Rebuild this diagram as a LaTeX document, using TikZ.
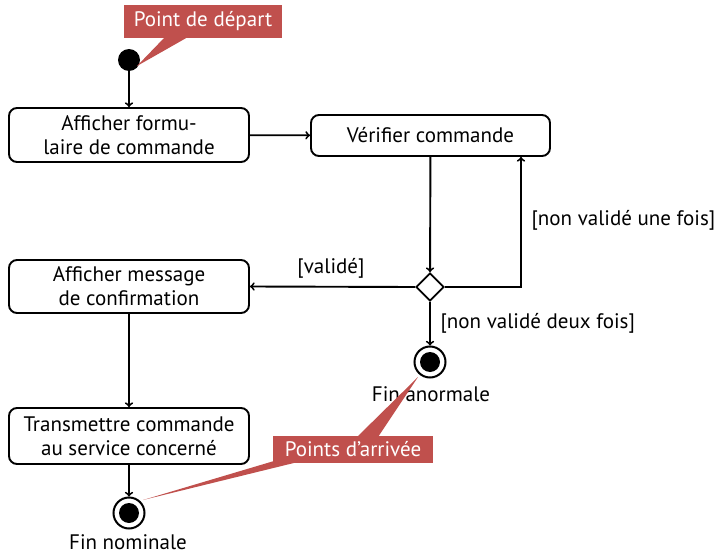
\documentclass[tikz,border=0pt]{standalone}
\usepackage{fontspec}
\setmainfont{PT Sans}
\usetikzlibrary{shapes.geometric}
\definecolor{calloutred}{RGB}{192,80,77}
\begin{document}
\begin{tikzpicture}[x=1pt,y=-1pt,
  every node/.style={font=\fontsize{21}{24}\selectfont},
  action/.style={draw,rounded corners=8pt,line width=1.9pt,align=center,inner sep=0pt},
  flow/.style={->,line width=1.9pt},
  startdot/.style={circle,fill=black,minimum size=22pt,inner sep=0pt},
  enddot/.style={circle,draw,line width=2pt,minimum size=31pt,inner sep=0pt,
    path picture={\fill[black] (path picture bounding box.center) circle (10pt);}},
  choice/.style={diamond,draw,line width=1.9pt,minimum size=28pt,inner sep=0pt},
  callout/.style={fill=calloutred,text=white,inner sep=0pt,font=\fontsize{21}{24}\selectfont},
  guard/.style={font=\fontsize{21}{24}\selectfont},
  endlabel/.style={anchor=base,inner sep=0pt}]
\useasboundingbox (0,0) rectangle (721,554);

% initial state
\node[startdot] (start) at (129,60) {};

% actions
\node[action,minimum width=240pt,minimum height=54pt] (form) at (129,135)
  {Afficher formu-\\laire de commande};
\node[action,minimum width=239pt,minimum height=41pt] (check) at (430.5,135.5)
  {Vérifier commande};
\node[action,minimum width=240pt,minimum height=53pt] (confirm) at (129,286.5)
  {Afficher message\\de confirmation};
\node[action,minimum width=240pt,minimum height=56pt] (send) at (129,436)
  {Transmettre commande\\au service concerné};

% decision
\node[choice] (dec) at (430,287) {};

% final states
\node[enddot] (badend) at (430,362) {};
\node[enddot] (goodend) at (129,513) {};
\node[endlabel] (badlbl) at (431,401) {Fin anormale};
\node[endlabel] (goodlbl) at (128,549) {Fin nominale};

% flows
\draw[flow] (start) -- (form);
\draw[flow] (form) -- (check);
\draw[flow] (check) -- (dec);
\coordinate (loopc) at (521,287);
\draw[flow] (dec.east) -- (loopc) -- (check.south -| loopc);
\draw[flow] (dec.west) -- (confirm.east);
\draw[flow] (dec.south) -- (badend);
\draw[flow] (confirm) -- (send);
\draw[flow] (send) -- (goodend);

% guards
\node[guard,anchor=west] (g1) at (528,220) {[non validé une fois]};
\node[guard] (g2) at (331,268) {[validé]};
\node[guard,anchor=west] (g3) at (437,323) {[non validé deux fois]};

% callouts
\node[callout,minimum width=158pt,minimum height=33pt] (c1) at (203,21.5) {Point de départ};
\fill[calloutred] (165,37) -- (188,37) -- (137,66) -- cycle;

\node[callout,minimum width=160pt,minimum height=27pt] (c2) at (353,449) {Points d'arrivée};
\fill[calloutred] (357,437) -- (378,437) -- (418,377) -- cycle;
\fill[calloutred] (274,461) -- (302,461) -- (143,500) -- cycle;
\end{tikzpicture}
\end{document}
